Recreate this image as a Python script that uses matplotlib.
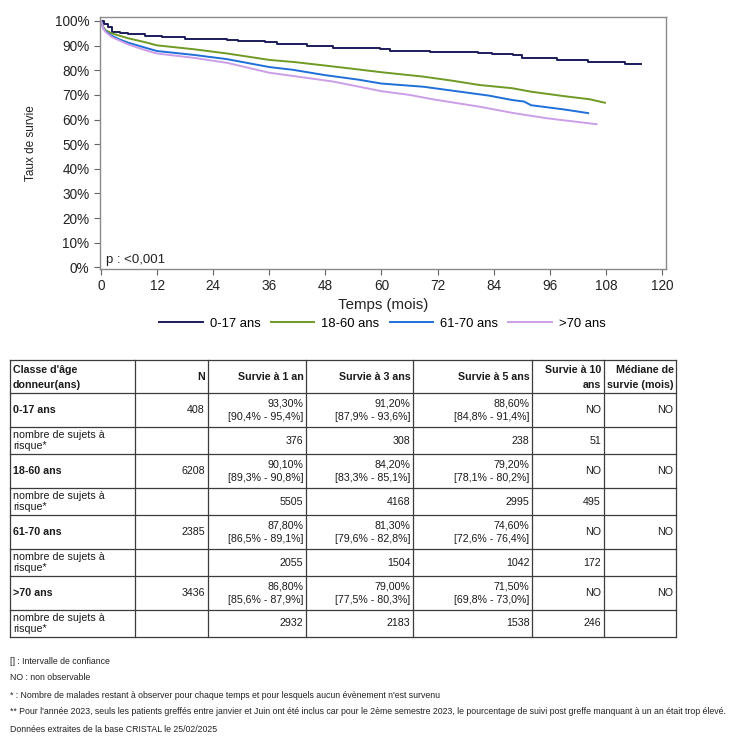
import matplotlib
matplotlib.use("Agg")
import matplotlib.pyplot as plt
from matplotlib import font_manager
from matplotlib.ticker import PercentFormatter

plt.rcParams["font.family"] = ["Liberation Sans", "DejaVu Sans"]

# --- survival curves ---
groups = ["0-17 ans", "18-60 ans", "61-70 ans", ">70 ans"]
colors = ["#1c1c5c", "#6f9a24", "#1f6fd8", "#cc9ee8"]

t_017 = [0, 0.6, 1.5, 2.3, 4, 5.8, 9.4, 13, 18, 27, 29.3, 35, 37.6, 44, 49.7, 54,
         59.7, 61.8, 70.4, 80.7, 83.6, 88.2, 90, 97.5, 104.2, 112, 115.6]
s_017 = [1.0, 0.988, 0.977, 0.957, 0.952, 0.947, 0.940, 0.934, 0.926, 0.923, 0.919,
         0.913, 0.905, 0.898, 0.892, 0.889, 0.885, 0.880, 0.873, 0.869, 0.865,
         0.862, 0.851, 0.843, 0.835, 0.824, 0.824]

t_1860 = [0, 0.5, 1, 2.3, 4, 5.8, 9.4, 12, 20, 27, 36, 41.5, 48, 54.7, 60, 69,
          75, 81, 88, 92, 99, 104.6, 107.8]
s_1860 = [1.0, 0.975, 0.962, 0.950, 0.940, 0.930, 0.914, 0.901, 0.885, 0.868,
          0.842, 0.833, 0.819, 0.804, 0.792, 0.774, 0.758, 0.740, 0.727, 0.713,
          0.695, 0.682, 0.668]

t_6170 = [0, 0.5, 1, 2.3, 4, 5.8, 9.4, 12, 20, 27, 36, 41, 48, 55, 60, 69, 76,
          83, 88, 90.5, 92, 99, 104.2]
s_6170 = [1.0, 0.97, 0.958, 0.940, 0.925, 0.912, 0.892, 0.878, 0.862, 0.845,
          0.813, 0.802, 0.780, 0.762, 0.746, 0.733, 0.715, 0.697, 0.679, 0.673,
          0.658, 0.641, 0.626]

t_70 = [0, 0.5, 1, 2.3, 4, 5.8, 9.4, 12, 20, 27, 36, 41, 49.7, 60, 66, 71, 76,
        81, 88, 95.4, 102.5, 106]
s_70 = [1.0, 0.97, 0.955, 0.935, 0.92, 0.905, 0.882, 0.868, 0.850, 0.830,
        0.790, 0.777, 0.754, 0.715, 0.70, 0.682, 0.667, 0.652, 0.627, 0.605,
        0.589, 0.581]

x_ticks = [0, 12, 24, 36, 48, 60, 72, 84, 96, 108, 120]
p_value = "p : <0,001"

# --- table ---
header = ["Classe d'âge\ndonneur(ans)", "N", "Survie à 1 an", "Survie à 3 ans",
          "Survie à 5 ans", "Survie à 10\nans", "Médiane de\nsurvie (mois)"]
n_values = ["408", "6208", "2385", "3436"]
surv_1an = ["93,30%", "90,10%", "87,80%", "86,80%"]
ci_1an = ["[90,4% - 95,4%]", "[89,3% - 90,8%]", "[86,5% - 89,1%]", "[85,6% - 87,9%]"]
surv_3ans = ["91,20%", "84,20%", "81,30%", "79,00%"]
ci_3ans = ["[87,9% - 93,6%]", "[83,3% - 85,1%]", "[79,6% - 82,8%]", "[77,5% - 80,3%]"]
surv_5ans = ["88,60%", "79,20%", "74,60%", "71,50%"]
ci_5ans = ["[84,8% - 91,4%]", "[78,1% - 80,2%]", "[72,6% - 76,4%]", "[69,8% - 73,0%]"]
surv_10ans = ["NO", "NO", "NO", "NO"]
mediane = ["NO", "NO", "NO", "NO"]
risk_1an = ["376", "5505", "2055", "2932"]
risk_3ans = ["308", "4168", "1504", "2183"]
risk_5ans = ["238", "2995", "1042", "1538"]
risk_10ans = ["51", "495", "172", "246"]
risk_label = "nombre de sujets à\nrisque*"

footnotes = [
    "[] : Intervalle de confiance",
    "NO : non observable",
    "* : Nombre de malades restant à observer pour chaque temps et pour lesquels aucun évènement n'est survenu",
    "** Pour l'année 2023, seuls les patients greffés entre janvier et Juin ont été inclus car pour le 2ème "
    "semestre 2023, le pourcentage de suivi post greffe manquant à un an était trop élevé.",
    "Données extraites de la base CRISTAL le 25/02/2025",
]

W, H = 750, 745
fig = plt.figure(figsize=(W / 100, H / 100), dpi=100)
fig.patch.set_facecolor("white")

# --- chart ---
ax = fig.add_axes([100 / W, 1 - 268.7 / H, 566 / W, 251.4 / H])
ax.step(t_017, s_017, where="post", color=colors[0], lw=1.4, label=groups[0])
ax.plot(t_1860, s_1860, color=colors[1], lw=1.4, label=groups[1])
ax.plot(t_6170, s_6170, color=colors[2], lw=1.4, label=groups[2])
ax.plot(t_70, s_70, color=colors[3], lw=1.4, label=groups[3])

ax.set_xlim(-0.21, 120.86)
ax.set_ylim(-0.0057, 1.015)
ax.set_xticks(x_ticks)
ax.set_yticks([i / 10 for i in range(11)])
ax.yaxis.set_major_formatter(PercentFormatter(xmax=1, decimals=0))
for sp in ax.spines.values():
    sp.set_color("#8a8a8a")
    sp.set_linewidth(1.0)
ax.tick_params(length=4, width=0.8, color="#666666", labelsize=9.8, pad=3.5,
               labelcolor="#222222")
ax.set_xlabel("Temps (mois)", fontsize=10.8, color="#222222")
ax.xaxis.set_label_coords(0.5, -0.115)
ax.set_ylabel("Taux de survie", fontsize=8.5, color="#222222")
ax.yaxis.set_label_coords(-0.112, 0.5)
ax.text(0.0106, 0.0346, p_value, transform=ax.transAxes, fontsize=9.5,
        va="center", ha="left", color="#222222")

fig.legend(loc="center", bbox_to_anchor=(382.5 / W, 1 - 324 / H), ncol=4,
           frameon=False, fontsize=9.4, handlelength=3.3, handletextpad=0.55,
           columnspacing=0.8)

# --- table (pixel coordinates) ---
tb = fig.add_axes([0, 0, 1, 1])
tb.set_xlim(0, W)
tb.set_ylim(H, 0)
tb.axis("off")

col_x = [10, 135, 207.5, 306, 413, 532, 603.5, 676]
row_y = [359.7, 393.3, 427.3, 454, 488.3, 515, 549, 576, 610, 636.7]
line_c = "#3c3c3c"
for x in col_x:
    tb.plot([x, x], [row_y[0], row_y[-1]], color=line_c, lw=0.9)
for y in row_y:
    tb.plot([col_x[0], col_x[-1]], [y, y], color=line_c, lw=0.9)

fs = 7.7
tc = "#1a1a1a"

def cell(text, col, y, bold=False, left=False):
    if left:
        tb.text(col_x[col] + 3, y, text, ha="left", va="center", fontsize=fs,
                fontweight="bold" if bold else "normal", color=tc)
    else:
        tb.text(col_x[col + 1] - 2.5, y, text, ha="right", va="center", fontsize=fs,
                fontweight="bold" if bold else "normal", color=tc)

# header
for j, h in enumerate(header):
    if "\n" in h:
        l1, l2 = h.split("\n")
        cell(l1, j, 370, bold=True, left=(j == 0))
        cell(l2, j, 384.5, bold=True, left=(j == 0))
    else:
        cell(h, j, 377.5, bold=True, left=(j == 0))

for i in range(len(groups)):
    top = row_y[1 + 2 * i]
    bot = row_y[2 + 2 * i]
    mid = (top + bot) / 2
    cell(groups[i], 0, mid, bold=True, left=True)
    cell(n_values[i], 1, mid)
    for j, (s, c) in enumerate([(surv_1an, ci_1an), (surv_3ans, ci_3ans),
                                (surv_5ans, ci_5ans)]):
        cell(s[i], 2 + j, top + 10.7)
        cell(c[i], 2 + j, top + 23.6)
    cell(surv_10ans[i], 5, mid)
    cell(mediane[i], 6, mid)

    rtop = bot
    rbot = row_y[3 + 2 * i]
    rmid = (rtop + rbot) / 2
    l1, l2 = risk_label.split("\n")
    cell(l1, 0, rtop + 7.7, left=True)
    cell(l2, 0, rtop + 18.6, left=True)
    for j, r in enumerate([risk_1an, risk_3ans, risk_5ans, risk_10ans]):
        cell(r[i], 2 + j, rmid)

# --- footnotes ---
names = {f.name for f in font_manager.fontManager.ttflist}
if "Liberation Sans Narrow" in names:
    fn_family, fn_size = "Liberation Sans Narrow", 7.62
else:
    fn_family, fn_size = "Liberation Sans", 6.35
for txt, y in zip(footnotes, [662, 678, 695, 712, 729]):
    tb.text(10, y, txt, ha="left", va="center", fontsize=fn_size,
            family=fn_family, color="#222222")

fig.savefig("out.png", dpi=100, facecolor="white")
